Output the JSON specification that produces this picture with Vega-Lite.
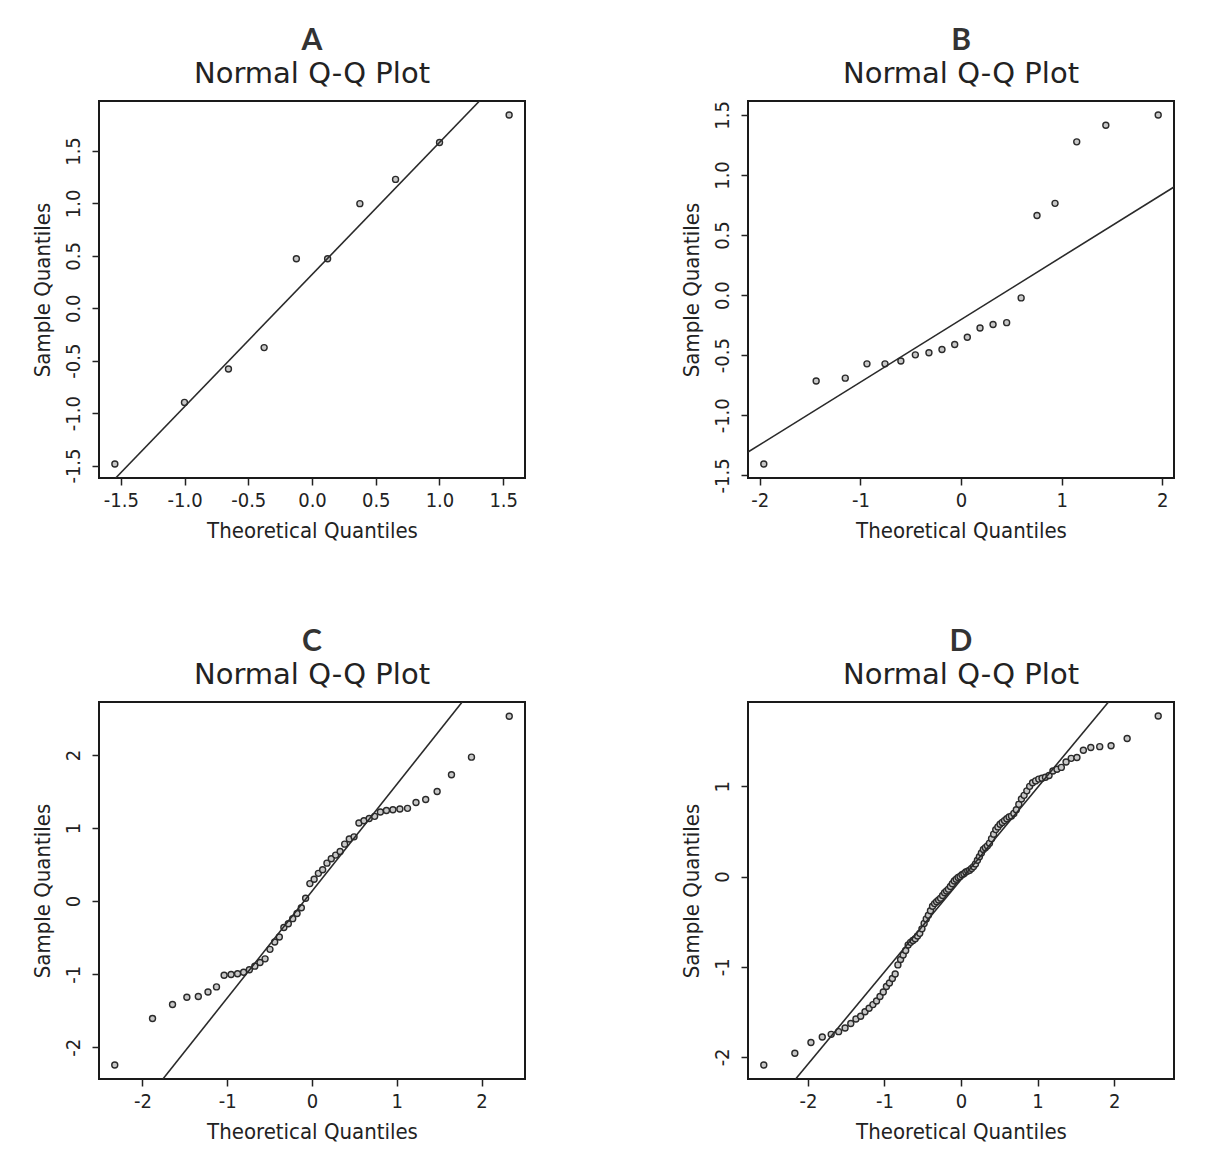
{
  "$schema": "https://vega.github.io/schema/vega-lite/v6.json",
  "background": "white",
  "padding": {"left": 29, "top": 24, "right": 10, "bottom": 10},
  "datasets": {
    "A": [
      {"t": -1.5466, "s": -1.486}, {"t": -1.0005, "s": -0.898}, {"t": -0.6554, "s": -0.58}, {"t": -0.3755, "s": -0.375}, {"t": -0.1226, "s": 0.472},
      {"t": 0.1226, "s": 0.472}, {"t": 0.3755, "s": 0.998}, {"t": 0.6554, "s": 1.229}, {"t": 1.0005, "s": 1.581}, {"t": 1.5466, "s": 1.844}
    ],
    "B": [
      {"t": -1.96, "s": -1.406}, {"t": -1.4395, "s": -0.715}, {"t": -1.1503, "s": -0.691}, {"t": -0.9346, "s": -0.572}, {"t": -0.7554, "s": -0.572},
      {"t": -0.5978, "s": -0.548}, {"t": -0.4538, "s": -0.497}, {"t": -0.3186, "s": -0.479}, {"t": -0.1891, "s": -0.453}, {"t": -0.0627, "s": -0.411},
      {"t": 0.0627, "s": -0.351}, {"t": 0.1891, "s": -0.274}, {"t": 0.3186, "s": -0.244}, {"t": 0.4538, "s": -0.229}, {"t": 0.5978, "s": -0.023},
      {"t": 0.7554, "s": 0.663}, {"t": 0.9346, "s": 0.764}, {"t": 1.1503, "s": 1.276}, {"t": 1.4395, "s": 1.414}, {"t": 1.96, "s": 1.5}
    ],
    "C": [
      {"t": -2.3263, "s": -2.243}, {"t": -1.8808, "s": -1.606}, {"t": -1.6449, "s": -1.415}, {"t": -1.4758, "s": -1.315}, {"t": -1.3408, "s": -1.305},
      {"t": -1.2265, "s": -1.244}, {"t": -1.1264, "s": -1.174}, {"t": -1.0364, "s": -1.014}, {"t": -0.9542, "s": -1.003}, {"t": -0.8779, "s": -0.993},
      {"t": -0.8064, "s": -0.973}, {"t": -0.7388, "s": -0.94}, {"t": -0.6745, "s": -0.89}, {"t": -0.6128, "s": -0.84}, {"t": -0.5534, "s": -0.79},
      {"t": -0.4959, "s": -0.66}, {"t": -0.4399, "s": -0.56}, {"t": -0.3853, "s": -0.49}, {"t": -0.3319, "s": -0.36}, {"t": -0.2793, "s": -0.31},
      {"t": -0.2275, "s": -0.24}, {"t": -0.1764, "s": -0.17}, {"t": -0.1257, "s": -0.09}, {"t": -0.0753, "s": 0.04}, {"t": -0.0251, "s": 0.24},
      {"t": 0.0251, "s": 0.3}, {"t": 0.0753, "s": 0.38}, {"t": 0.1257, "s": 0.43}, {"t": 0.1764, "s": 0.52}, {"t": 0.2275, "s": 0.58},
      {"t": 0.2793, "s": 0.63}, {"t": 0.3319, "s": 0.68}, {"t": 0.3853, "s": 0.78}, {"t": 0.4399, "s": 0.85}, {"t": 0.4959, "s": 0.88},
      {"t": 0.5534, "s": 1.07}, {"t": 0.6128, "s": 1.1}, {"t": 0.6745, "s": 1.13}, {"t": 0.7388, "s": 1.16}, {"t": 0.8064, "s": 1.22},
      {"t": 0.8779, "s": 1.24}, {"t": 0.9542, "s": 1.25}, {"t": 1.0364, "s": 1.26}, {"t": 1.1264, "s": 1.27}, {"t": 1.2265, "s": 1.35},
      {"t": 1.3408, "s": 1.39}, {"t": 1.4758, "s": 1.5}, {"t": 1.6449, "s": 1.73}, {"t": 1.8808, "s": 1.97}, {"t": 2.3263, "s": 2.53}
    ],
    "D": [
      {"t": -2.5758, "s": -2.09}, {"t": -2.1701, "s": -1.96}, {"t": -1.96, "s": -1.84}, {"t": -1.8119, "s": -1.78}, {"t": -1.6954, "s": -1.75},
      {"t": -1.5982, "s": -1.72}, {"t": -1.5141, "s": -1.68}, {"t": -1.4395, "s": -1.63}, {"t": -1.3722, "s": -1.58}, {"t": -1.3106, "s": -1.55},
      {"t": -1.2536, "s": -1.5}, {"t": -1.2004, "s": -1.46}, {"t": -1.1503, "s": -1.42}, {"t": -1.1031, "s": -1.38}, {"t": -1.0581, "s": -1.33},
      {"t": -1.0152, "s": -1.28}, {"t": -0.9741, "s": -1.22}, {"t": -0.9346, "s": -1.18}, {"t": -0.8965, "s": -1.13}, {"t": -0.8596, "s": -1.08},
      {"t": -0.8239, "s": -0.98}, {"t": -0.7892, "s": -0.92}, {"t": -0.7554, "s": -0.87}, {"t": -0.7225, "s": -0.82}, {"t": -0.6903, "s": -0.76},
      {"t": -0.6588, "s": -0.73}, {"t": -0.628, "s": -0.71}, {"t": -0.5978, "s": -0.69}, {"t": -0.5681, "s": -0.66}, {"t": -0.5388, "s": -0.63},
      {"t": -0.5101, "s": -0.58}, {"t": -0.4817, "s": -0.52}, {"t": -0.4538, "s": -0.47}, {"t": -0.4261, "s": -0.43}, {"t": -0.3989, "s": -0.38},
      {"t": -0.3719, "s": -0.33}, {"t": -0.3451, "s": -0.3}, {"t": -0.3186, "s": -0.28}, {"t": -0.2924, "s": -0.26}, {"t": -0.2663, "s": -0.24},
      {"t": -0.2404, "s": -0.21}, {"t": -0.2147, "s": -0.18}, {"t": -0.1891, "s": -0.16}, {"t": -0.1637, "s": -0.14}, {"t": -0.1383, "s": -0.11},
      {"t": -0.113, "s": -0.08}, {"t": -0.0878, "s": -0.05}, {"t": -0.0627, "s": -0.03}, {"t": -0.0376, "s": -0.01}, {"t": -0.0125, "s": 0.0},
      {"t": 0.0125, "s": 0.02}, {"t": 0.0376, "s": 0.03}, {"t": 0.0627, "s": 0.05}, {"t": 0.0878, "s": 0.06}, {"t": 0.113, "s": 0.07},
      {"t": 0.1383, "s": 0.09}, {"t": 0.1637, "s": 0.11}, {"t": 0.1891, "s": 0.14}, {"t": 0.2147, "s": 0.18}, {"t": 0.2404, "s": 0.22},
      {"t": 0.2663, "s": 0.26}, {"t": 0.2924, "s": 0.3}, {"t": 0.3186, "s": 0.32}, {"t": 0.3451, "s": 0.34}, {"t": 0.3719, "s": 0.37},
      {"t": 0.3989, "s": 0.42}, {"t": 0.4261, "s": 0.47}, {"t": 0.4538, "s": 0.52}, {"t": 0.4817, "s": 0.55}, {"t": 0.5101, "s": 0.58},
      {"t": 0.5388, "s": 0.6}, {"t": 0.5681, "s": 0.62}, {"t": 0.5978, "s": 0.64}, {"t": 0.628, "s": 0.66}, {"t": 0.6588, "s": 0.67},
      {"t": 0.6903, "s": 0.7}, {"t": 0.7225, "s": 0.74}, {"t": 0.7554, "s": 0.8}, {"t": 0.7892, "s": 0.86}, {"t": 0.8239, "s": 0.9},
      {"t": 0.8596, "s": 0.95}, {"t": 0.8965, "s": 1.0}, {"t": 0.9346, "s": 1.04}, {"t": 0.9741, "s": 1.06}, {"t": 1.0152, "s": 1.08},
      {"t": 1.0581, "s": 1.09}, {"t": 1.1031, "s": 1.1}, {"t": 1.1503, "s": 1.12}, {"t": 1.2004, "s": 1.17}, {"t": 1.2536, "s": 1.19},
      {"t": 1.3106, "s": 1.21}, {"t": 1.3722, "s": 1.27}, {"t": 1.4395, "s": 1.31}, {"t": 1.5141, "s": 1.32}, {"t": 1.5982, "s": 1.4},
      {"t": 1.6954, "s": 1.43}, {"t": 1.8119, "s": 1.44}, {"t": 1.96, "s": 1.45}, {"t": 2.1701, "s": 1.53}, {"t": 2.5758, "s": 1.78}
    ],
    "lineA": [{"x": -1.54, "y": -1.619, "x2": 1.314, "y2": 1.977}],
    "lineB": [{"x": -2.117, "y": -1.306, "x2": 2.117, "y2": 0.9}],
    "lineC": [{"x": -1.758, "y": -2.434, "x2": 1.771, "y2": 2.725}],
    "lineD": [{"x": -2.16, "y": -2.245, "x2": 1.926, "y2": 1.935}]
  },
  "vconcat": [
    {
      "bounds": "flush",
      "spacing": 223,
      "hconcat": [
        {
          "width": 426, "height": 377,
          "title": {"text": "A", "subtitle": "Normal Q-Q Plot"},
          "layer": [
            {
              "data": {"name": "A"},
              "mark": {"type": "point", "shape": "circle", "filled": true, "fill": "#c8c8c8", "stroke": "#2a2a2a", "strokeWidth": 1.4, "size": 36, "opacity": 1},
              "encoding": {
                "x": {"field": "t", "type": "quantitative", "title": "Theoretical Quantiles", "scale": {"domain": [-1.671, 1.671], "nice": false, "zero": false}, "axis": {"values": [-1.5, -1, -0.5, 0, 0.5, 1, 1.5], "labelExpr": "replace(format(datum.value, '.1f'), '\u2212', '-')"}},
                "y": {"field": "s", "type": "quantitative", "title": "Sample Quantiles", "scale": {"domain": [-1.619, 1.977], "nice": false, "zero": false}, "axis": {"values": [-1.5, -1, -0.5, 0, 0.5, 1, 1.5], "labelExpr": "replace(format(datum.value, '.1f'), '\u2212', '-')"}}
              }
            },
            {
              "data": {"name": "lineA"},
              "mark": {"type": "rule", "color": "#2a2a2a", "strokeWidth": 1.6, "clip": true},
              "encoding": {
                "x": {"field": "x", "type": "quantitative"}, "y": {"field": "y", "type": "quantitative"},
                "x2": {"field": "x2"}, "y2": {"field": "y2"}
              }
            }
          ]
        },
        {
          "width": 426, "height": 377,
          "title": {"text": "B", "subtitle": "Normal Q-Q Plot"},
          "layer": [
            {
              "data": {"name": "B"},
              "mark": {"type": "point", "shape": "circle", "filled": true, "fill": "#c8c8c8", "stroke": "#2a2a2a", "strokeWidth": 1.4, "size": 36, "opacity": 1},
              "encoding": {
                "x": {"field": "t", "type": "quantitative", "title": "Theoretical Quantiles", "scale": {"domain": [-2.117, 2.117], "nice": false, "zero": false}, "axis": {"values": [-2, -1, 0, 1, 2], "labelExpr": "replace(format(datum.value, 'd'), '\u2212', '-')"}},
                "y": {"field": "s", "type": "quantitative", "title": "Sample Quantiles", "scale": {"domain": [-1.522, 1.616], "nice": false, "zero": false}, "axis": {"values": [-1.5, -1, -0.5, 0, 0.5, 1, 1.5], "labelExpr": "replace(format(datum.value, '.1f'), '\u2212', '-')"}}
              }
            },
            {
              "data": {"name": "lineB"},
              "mark": {"type": "rule", "color": "#2a2a2a", "strokeWidth": 1.6, "clip": true},
              "encoding": {
                "x": {"field": "x", "type": "quantitative"}, "y": {"field": "y", "type": "quantitative"},
                "x2": {"field": "x2"}, "y2": {"field": "y2"}
              }
            }
          ]
        }
      ]
    },
    {
      "bounds": "flush",
      "spacing": 223,
      "hconcat": [
        {
          "width": 426, "height": 377,
          "title": {"text": "C", "subtitle": "Normal Q-Q Plot"},
          "layer": [
            {
              "data": {"name": "C"},
              "mark": {"type": "point", "shape": "circle", "filled": true, "fill": "#c8c8c8", "stroke": "#2a2a2a", "strokeWidth": 1.4, "size": 36, "opacity": 1},
              "encoding": {
                "x": {"field": "t", "type": "quantitative", "title": "Theoretical Quantiles", "scale": {"domain": [-2.512, 2.512], "nice": false, "zero": false}, "axis": {"values": [-2, -1, 0, 1, 2], "labelExpr": "replace(format(datum.value, 'd'), '\u2212', '-')"}},
                "y": {"field": "s", "type": "quantitative", "title": "Sample Quantiles", "scale": {"domain": [-2.434, 2.725], "nice": false, "zero": false}, "axis": {"values": [-2, -1, 0, 1, 2], "labelExpr": "replace(format(datum.value, 'd'), '\u2212', '-')"}}
              }
            },
            {
              "data": {"name": "lineC"},
              "mark": {"type": "rule", "color": "#2a2a2a", "strokeWidth": 1.6, "clip": true},
              "encoding": {
                "x": {"field": "x", "type": "quantitative"}, "y": {"field": "y", "type": "quantitative"},
                "x2": {"field": "x2"}, "y2": {"field": "y2"}
              }
            }
          ]
        },
        {
          "width": 426, "height": 377,
          "title": {"text": "D", "subtitle": "Normal Q-Q Plot"},
          "layer": [
            {
              "data": {"name": "D"},
              "mark": {"type": "point", "shape": "circle", "filled": true, "fill": "#c8c8c8", "stroke": "#2a2a2a", "strokeWidth": 1.4, "size": 36, "opacity": 1},
              "encoding": {
                "x": {"field": "t", "type": "quantitative", "title": "Theoretical Quantiles", "scale": {"domain": [-2.782, 2.782], "nice": false, "zero": false}, "axis": {"values": [-2, -1, 0, 1, 2], "labelExpr": "replace(format(datum.value, 'd'), '\u2212', '-')"}},
                "y": {"field": "s", "type": "quantitative", "title": "Sample Quantiles", "scale": {"domain": [-2.245, 1.935], "nice": false, "zero": false}, "axis": {"values": [-2, -1, 0, 1], "labelExpr": "replace(format(datum.value, 'd'), '\u2212', '-')"}}
              }
            },
            {
              "data": {"name": "lineD"},
              "mark": {"type": "rule", "color": "#2a2a2a", "strokeWidth": 1.6, "clip": true},
              "encoding": {
                "x": {"field": "x", "type": "quantitative"}, "y": {"field": "y", "type": "quantitative"},
                "x2": {"field": "x2"}, "y2": {"field": "y2"}
              }
            }
          ]
        }
      ]
    }
  ],
  "spacing": 84,
  "config": {
    "view": {"stroke": "#1a1a1a", "strokeWidth": 2},
    "axis": {
      "domain": false, "grid": false, "ticks": true, "tickColor": "#222222", "tickSize": 7, "tickWidth": 1.5,
      "labelFont": "Liberation Sans Narrow, DejaVu Sans Condensed, Liberation Sans", "labelFontSize": 20, "labelColor": "#222222",
      "labelOverlap": false, "labelBound": false, "labelFlush": false,
      "titleFont": "Liberation Sans Narrow, DejaVu Sans Condensed, Liberation Sans", "titleFontSize": 22, "titleFontWeight": "normal", "titleColor": "#222222"
    },
    "axisX": {"labelPadding": 5, "titlePadding": 10},
    "axisY": {"labelAngle": -90, "labelAlign": "center", "labelBaseline": "alphabetic", "labelPadding": 13, "titlePadding": 9},
    "title": {
      "font": "Lato", "fontSize": 30, "fontWeight": "bold", "color": "#333333",
      "subtitleFont": "DejaVu Sans", "subtitleFontSize": 29, "subtitleColor": "#222222", "subtitlePadding": 4,
      "anchor": "middle", "frame": "group", "offset": 12
    }
  }
}
